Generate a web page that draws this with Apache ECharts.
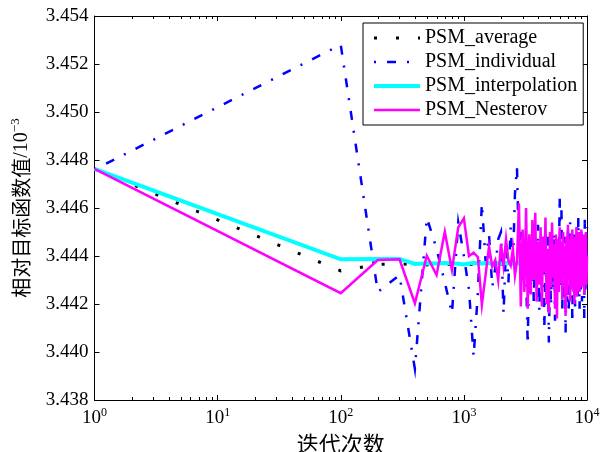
<!DOCTYPE html>
<html>
<head>
<meta charset="utf-8">
<script src="https://cdn.jsdelivr.net/npm/echarts@6/dist/echarts.min.js"></script>
<style>
  html, body { margin: 0; padding: 0; background: #ffffff; }
  #chart { width: 609px; height: 452px; }
</style>
</head>
<body>
<div id="chart"></div>
<script>
// Iteration counts (x values, log axis)
const iterations = [
  1,
  100, 200, 300, 400, 500, 600, 700, 800, 900, 1000,
  1100, 1200, 1300, 1400, 1500, 1600, 1700, 1800, 1900, 2000,
  2100, 2200, 2300, 2400, 2500, 2600, 2700, 2800, 2900, 3000,
  3100, 3200, 3300, 3400, 3500, 3600, 3700, 3800, 3900, 4000,
  4100, 4200, 4300, 4400, 4500, 4600, 4700, 4800, 4900, 5000,
  5100, 5200, 5300, 5400, 5500, 5600, 5700, 5800, 5900, 6000,
  6100, 6200, 6300, 6400, 6500, 6600, 6700, 6800, 6900, 7000,
  7100, 7200, 7300, 7400, 7500, 7600, 7700, 7800, 7900, 8000,
  8100, 8200, 8300, 8400, 8500, 8600, 8700, 8800, 8900, 9000,
  9100, 9200, 9300, 9400, 9500, 9600, 9700, 9800, 9900, 10000
];

// Relative objective value (x 10^-3) per method
const psmAverage = [
  3.44763,
  3.44338, 3.44365, 3.44367, 3.44364, 3.44363, 3.44365, 3.44364, 3.44366, 3.44364, 3.44362,
  3.44364, 3.44365, 3.44363, 3.44364, 3.44366, 3.44364, 3.44363, 3.44365, 3.44364, 3.44363,
  3.44365, 3.44364, 3.44363, 3.44365, 3.44364, 3.44366, 3.44364, 3.44363, 3.44365, 3.44364,
  3.44363, 3.44365, 3.44364, 3.44363, 3.44365, 3.44364, 3.44366, 3.44364, 3.44363, 3.44365,
  3.44364, 3.44363, 3.44365, 3.44364, 3.44366, 3.44364, 3.44363, 3.44365, 3.44364, 3.44363,
  3.44365, 3.44364, 3.44363, 3.44365, 3.44364, 3.44366, 3.44364, 3.44363, 3.44365, 3.44364,
  3.44363, 3.44365, 3.44364, 3.44363, 3.44365, 3.44364, 3.44366, 3.44364, 3.44363, 3.44365,
  3.44364, 3.44363, 3.44365, 3.44364, 3.44366, 3.44364, 3.44363, 3.44365, 3.44364, 3.44363,
  3.44365, 3.44364, 3.44363, 3.44365, 3.44364, 3.44366, 3.44364, 3.44363, 3.44365, 3.44364,
  3.44363, 3.44365, 3.44364, 3.44363, 3.44365, 3.44364, 3.44366, 3.44364, 3.44363, 3.44365
];

const psmIndividual = [
  3.4476,
  3.4528, 3.4425, 3.4432, 3.4393, 3.4456, 3.4443, 3.4429, 3.4416, 3.4454, 3.4440,
  3.4426, 3.4398, 3.4425, 3.4462, 3.4438, 3.4449, 3.4427, 3.4435, 3.4447, 3.4450,
  3.4416, 3.4445, 3.4429, 3.4452, 3.4435, 3.4466, 3.4477, 3.4441, 3.4450, 3.4428,
  3.4447, 3.4433, 3.4403, 3.4442, 3.4427, 3.4451, 3.4419, 3.4446, 3.4431, 3.4453,
  3.4417, 3.4440, 3.4425, 3.4448, 3.4410, 3.4437, 3.4422, 3.4449, 3.4404, 3.4434,
  3.4419, 3.4445, 3.4426, 3.4450, 3.4413, 3.4441, 3.4424, 3.4447, 3.4430, 3.4465,
  3.4428, 3.4460, 3.4418, 3.4443, 3.4423, 3.4448, 3.4408, 3.4436, 3.4421, 3.4451,
  3.4416, 3.4439, 3.4454, 3.4427, 3.4446, 3.4412, 3.4438, 3.4425, 3.4449, 3.4419,
  3.4443, 3.4429, 3.4452, 3.4422, 3.4456, 3.4433, 3.4418, 3.4444, 3.4426, 3.4450,
  3.4421, 3.4441, 3.4428, 3.4447, 3.4414, 3.4457, 3.4424, 3.4445, 3.4430, 3.4452
];

const psmInterpolation = [
  3.44763,
  3.44386, 3.44388, 3.44388, 3.44367, 3.44370, 3.44369, 3.44371, 3.44370, 3.44368, 3.44365,
  3.44369, 3.44371, 3.44370, 3.44369, 3.44371, 3.44370, 3.44368, 3.44370, 3.44371, 3.44369,
  3.44370, 3.44371, 3.44369, 3.44370, 3.44368, 3.44370, 3.44371, 3.44369, 3.44370, 3.44371,
  3.44370, 3.44369, 3.44371, 3.44370, 3.44368, 3.44370, 3.44371, 3.44369, 3.44370, 3.44371,
  3.44370, 3.44369, 3.44371, 3.44370, 3.44368, 3.44370, 3.44371, 3.44369, 3.44370, 3.44371,
  3.44370, 3.44369, 3.44371, 3.44370, 3.44368, 3.44370, 3.44371, 3.44369, 3.44370, 3.44371,
  3.44370, 3.44369, 3.44371, 3.44370, 3.44368, 3.44370, 3.44371, 3.44369, 3.44370, 3.44371,
  3.44370, 3.44369, 3.44371, 3.44370, 3.44368, 3.44370, 3.44371, 3.44369, 3.44370, 3.44371,
  3.44370, 3.44369, 3.44371, 3.44370, 3.44368, 3.44370, 3.44371, 3.44369, 3.44370, 3.44371,
  3.44370, 3.44369, 3.44371, 3.44370, 3.44368, 3.44370, 3.44371, 3.44369, 3.44370, 3.44370
];

const psmNesterov = [
  3.44763,
  3.44245, 3.44383, 3.44386, 3.44203, 3.44401, 3.44321, 3.44501, 3.44342, 3.44519, 3.44557,
  3.44400, 3.44414, 3.44395, 3.44196, 3.44320, 3.44439, 3.44356, 3.44383, 3.44300, 3.44450,
  3.4436, 3.4447, 3.4438, 3.4436, 3.4443, 3.4432, 3.4438, 3.4462, 3.4419, 3.4451,
  3.4425, 3.4460, 3.4418, 3.4449, 3.4424, 3.4455, 3.4430, 3.4458, 3.4421, 3.4446,
  3.4428, 3.4452, 3.4419, 3.4448, 3.4433, 3.4456, 3.4420, 3.4443, 3.4416, 3.4450,
  3.4427, 3.4454, 3.4431, 3.4445, 3.4418, 3.4449, 3.4414, 3.4447, 3.4425, 3.4452,
  3.4429, 3.4446, 3.4422, 3.4450, 3.4432, 3.4444, 3.4415, 3.4448, 3.4424, 3.4453,
  3.4430, 3.4447, 3.4421, 3.4449, 3.4426, 3.4451, 3.4433, 3.4445, 3.4420, 3.4448,
  3.4428, 3.4452, 3.4423, 3.4446, 3.4431, 3.4450, 3.4425, 3.4447, 3.4429, 3.4451,
  3.4427, 3.4445, 3.4432, 3.4449, 3.4424, 3.4446, 3.4430, 3.4450, 3.4428, 3.4440
];

const seriesNames = ['PSM_average', 'PSM_individual', 'PSM_interpolation', 'PSM_Nesterov'];

// Axis settings
const yMin = 3.438, yMax = 3.454, yStep = 0.002;
const xMin = 1, xMax = 10000;
const logMinorTicks = [
  2, 3, 4, 5, 6, 7, 8, 9,
  20, 30, 40, 50, 60, 70, 80, 90,
  200, 300, 400, 500, 600, 700, 800, 900,
  2000, 3000, 4000, 5000, 6000, 7000, 8000, 9000
];

const SERIF = '"Liberation Serif", "DejaVu Serif", serif';
const CJK = '"Noto Sans CJK SC", sans-serif';

const styles = {
  PSM_average:       { color: '#000000', width: 3,   type: [3, 19] },
  PSM_individual:    { color: '#0000ff', width: 2.5, type: [2, 11, 9, 11] },
  PSM_interpolation: { color: '#00ffff', width: 4,   type: 'solid' },
  PSM_Nesterov:      { color: '#ff00ff', width: 2.5, type: 'solid' }
};

const valuesByName = {
  PSM_average: psmAverage,
  PSM_individual: psmIndividual,
  PSM_interpolation: psmInterpolation,
  PSM_Nesterov: psmNesterov
};

function pairs(ys) {
  return iterations.map((x, i) => [x, ys[i]]);
}

const lineSeries = seriesNames.map(name => ({
  name: name,
  type: 'line',
  data: pairs(valuesByName[name]),
  showSymbol: false,
  symbol: 'none',
  lineStyle: {
    color: styles[name].color,
    width: styles[name].width,
    type: styles[name].type,
    cap: 'butt',
    join: 'miter'
  },
  itemStyle: { color: styles[name].color },
  emphasis: { disabled: true },
  animation: false
}));

// Short inward ticks at 2..9 within every decade, on top and bottom edges
const minorTickSeries = {
  type: 'custom',
  name: 'minor',
  silent: true,
  clip: false,
  z: 10,
  data: logMinorTicks.map(v => [v]),
  renderItem: function (params, api) {
    const v = api.value(0);
    const b = api.coord([v, yMin]);
    const t = api.coord([v, yMax]);
    const x = Math.round(b[0]) + 0.5;
    const style = { stroke: '#000', lineWidth: 1 };
    return {
      type: 'group',
      children: [
        { type: 'line', shape: { x1: x, y1: b[1], x2: x, y2: b[1] - 3 }, style: style },
        { type: 'line', shape: { x1: x, y1: t[1], x2: x, y2: t[1] + 3 }, style: style }
      ]
    };
  },
  animation: false
};

const axisLineStyle = { show: true, lineStyle: { color: '#000', width: 1 } };
const tickStyle = { show: true, inside: true, length: 5, lineStyle: { color: '#000', width: 1 } };

const chart = echarts.init(document.getElementById('chart'), null, { renderer: 'canvas' });

chart.setOption({
  animation: false,
  backgroundColor: '#ffffff',
  grid: { left: 94.5, right: 22, top: 16, bottom: 52, containLabel: false, outerBoundsMode: 'none' },
  legend: {
    show: true,
    orient: 'vertical',
    left: 363,
    top: 23,
    padding: [5, 6, 5, 9],
    itemGap: 4,
    itemWidth: 46,
    itemHeight: 20,
    backgroundColor: '#ffffff',
    borderColor: '#000000',
    borderWidth: 1,
    selectedMode: false,
    textStyle: { fontFamily: SERIF, fontSize: 20, color: '#000' },
    data: seriesNames.map(name => ({
      name: name,
      itemStyle: { opacity: 0 },
      lineStyle: {
        color: styles[name].color,
        width: styles[name].width,
        type: styles[name].type,
        cap: 'butt'
      }
    }))
  },
  xAxis: [
    {
      type: 'log',
      logBase: 10,
      min: xMin,
      max: xMax,
      position: 'bottom',
      name: '迭代次数',
      nameLocation: 'middle',
      nameGap: 32,
      nameTextStyle: { fontFamily: CJK, fontSize: 22, color: '#000', verticalAlign: 'top' },
      axisLine: axisLineStyle,
      axisTick: tickStyle,
      splitLine: { show: false },
      axisLabel: {
        margin: 7,
        color: '#000',
        formatter: function (v) {
          const e = Math.round(Math.log10(v));
          return '{b|10}{s|' + e + '}';
        },
        rich: {
          b: { fontFamily: SERIF, fontSize: 19, lineHeight: 22, color: '#000' },
          s: { fontFamily: SERIF, fontSize: 12, lineHeight: 12, verticalAlign: 'top', color: '#000' }
        }
      }
    },
    {
      type: 'log',
      logBase: 10,
      min: xMin,
      max: xMax,
      position: 'top',
      axisLine: axisLineStyle,
      axisTick: tickStyle,
      axisLabel: { show: false },
      splitLine: { show: false }
    }
  ],
  yAxis: [
    {
      type: 'value',
      min: yMin,
      max: yMax,
      interval: yStep,
      position: 'left',
      name: '{a|相对目标函数值}{b|/10}{c|−3}',
      nameLocation: 'middle',
      nameRotate: 90,
      nameGap: 61,
      nameTextStyle: {
        color: '#000',
        rich: {
          a: { fontFamily: CJK, fontSize: 20, lineHeight: 24, color: '#000' },
          b: { fontFamily: SERIF, fontSize: 20, lineHeight: 24, color: '#000' },
          c: { fontFamily: SERIF, fontSize: 13, lineHeight: 13, verticalAlign: 'top', color: '#000' }
        }
      },
      axisLine: axisLineStyle,
      axisTick: tickStyle,
      splitLine: { show: false },
      axisLabel: {
        margin: 6,
        color: '#000',
        fontFamily: SERIF,
        fontSize: 19,
        formatter: v => v.toFixed(3)
      }
    },
    {
      type: 'value',
      min: yMin,
      max: yMax,
      interval: yStep,
      position: 'right',
      axisLine: axisLineStyle,
      axisTick: tickStyle,
      axisLabel: { show: false },
      splitLine: { show: false }
    }
  ],
  series: lineSeries.concat([minorTickSeries])
});
</script>
</body>
</html>
